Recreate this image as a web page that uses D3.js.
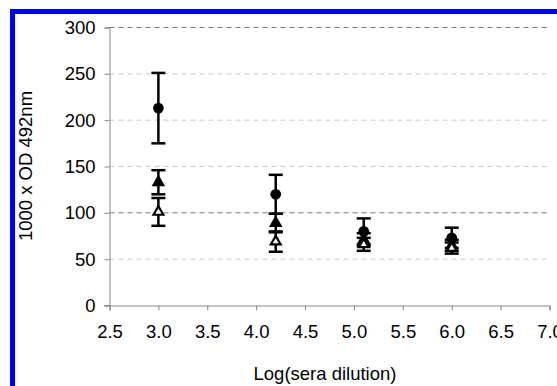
<html>
<head>
	<style>
		body { margin: 0; background: #fff; }
		text { font-family: "Liberation Sans", Arial, sans-serif; fill: #000; }
	</style>
	<script src="https://d3js.org/d3.v7.min.js"></script>
</head>
<body>
<svg width="557" height="386"></svg>
<script>
	// values
	var dilution = [3.0, 4.2, 5.1, 6.0];
	var circleMean = [213, 120, 80, 73];
	var circleErr = [38, 21, 14, 11];
	var filledMean = [133, 89, 71, 65];
	var filledErr = [13, 10, 7, 6];
	var openMean = [101, 69, 66, 62];
	var openErr = [15, 11, 7, 6];
	var xTicks = [2.5, 3.0, 3.5, 4.0, 4.5, 5.0, 5.5, 6.0, 6.5, 7.0];
	var yTicks = [0, 50, 100, 150, 200, 250, 300];
	var darkGrid = [100, 300];

	var svg = d3.select("svg");

	// blue frame, only top and left edges are inside the picture
	svg.append("rect")
		.attr("x", 12.5).attr("y", 11.5)
		.attr("width", 700).attr("height", 500)
		.attr("fill", "none")
		.attr("stroke", "#0000ff")
		.attr("stroke-width", 5);

	var xScale = d3.scaleLinear().domain([2.5, 7.0]).range([109.5, 549.5]);
	var yScale = d3.scaleLinear().domain([0, 300]).range([305.5, 27.5]);

	// gridlines
	svg.append("g").selectAll("line")
		.data(yTicks.filter(function(d) { return d > 0; }))
		.enter().append("line")
		.attr("x1", xScale(2.5)).attr("x2", xScale(7.0))
		.attr("y1", function(d) { return yScale(d); })
		.attr("y2", function(d) { return yScale(d); })
		.attr("stroke", function(d) { return darkGrid.indexOf(d) >= 0 ? "#777" : "#c8c8c8"; })
		.attr("stroke-dasharray", "5,4");

	// axes
	var xAxis = svg.append("g")
		.attr("transform", "translate(0," + yScale(0) + ")")
		.call(d3.axisBottom(xScale).tickValues(xTicks).tickFormat(d3.format(".1f")).tickSizeOuter(0).tickSize(5).tickPadding(14));
	var yAxis = svg.append("g")
		.attr("transform", "translate(" + xScale(2.5) + ",0)")
		.call(d3.axisLeft(yScale).tickValues(yTicks).tickSizeOuter(0).tickSize(5).tickPadding(9));

	[xAxis, yAxis].forEach(function(a) {
		a.selectAll("path, line").attr("stroke", "#888");
		a.selectAll("text").attr("font-size", "18.5px").attr("fill", "#000")
			.attr("font-family", "Liberation Sans, Arial, sans-serif");
	});
	// x axis line also runs under the 0 tick on the left
	svg.append("line")
		.attr("x1", xScale(2.5) - 5).attr("x2", xScale(2.5))
		.attr("y1", yScale(0)).attr("y2", yScale(0))
		.attr("stroke", "#888");

	svg.append("text")
		.attr("x", 325).attr("y", 380)
		.attr("text-anchor", "middle")
		.attr("font-size", "18.5px")
		.text("Log(sera dilution)");

	svg.append("text")
		.attr("transform", "translate(32,166) rotate(-90)")
		.attr("text-anchor", "middle")
		.attr("font-size", "18.5px")
		.text("1000 x OD 492nm");

	// one series: error bars then markers
	function drawSeries(means, errs, symbol, size, fill, strokeW) {
		var data = dilution.map(function(x, i) { return { x: x, m: means[i], e: errs[i] }; });
		var g = svg.append("g");
		g.selectAll(".bar")
			.data(data)
			.enter().append("line")
			.attr("x1", function(d) { return xScale(d.x); })
			.attr("x2", function(d) { return xScale(d.x); })
			.attr("y1", function(d) { return yScale(d.m - d.e); })
			.attr("y2", function(d) { return yScale(d.m + d.e); })
			.attr("stroke", "#000").attr("stroke-width", 2.5);
		[-1, 1].forEach(function(s) {
			g.selectAll(".cap" + s)
				.data(data)
				.enter().append("line")
				.attr("x1", function(d) { return xScale(d.x) - 7; })
				.attr("x2", function(d) { return xScale(d.x) + 7; })
				.attr("y1", function(d) { return yScale(d.m + s * d.e); })
				.attr("y2", function(d) { return yScale(d.m + s * d.e); })
				.attr("stroke", "#000").attr("stroke-width", 2.5);
		});
		g.selectAll("path")
			.data(data)
			.enter().append("path")
			.attr("transform", function(d) { return "translate(" + xScale(d.x) + "," + yScale(d.m) + ")"; })
			.attr("d", d3.symbol().type(symbol).size(size))
			.attr("fill", fill)
			.attr("stroke", "#000")
			.attr("stroke-width", strokeW);
	}

	drawSeries(circleMean, circleErr, d3.symbolCircle, 90, "#000", 0);
	drawSeries(filledMean, filledErr, d3.symbolTriangle, 80, "#000", 0);
	drawSeries(openMean, openErr, d3.symbolTriangle, 42, "#fff", 2.2);
</script>
</body>
</html>
